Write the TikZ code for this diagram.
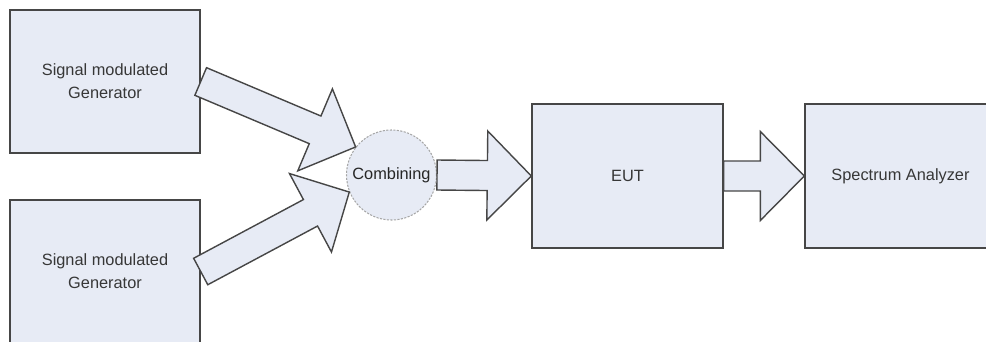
\documentclass[tikz,border=0pt]{standalone}
\usepackage{fontspec}
\setmainfont{Liberation Sans}
\usepackage{tikz}
\usetikzlibrary{calc}

\definecolor{boxfill}{RGB}{231,235,245}
\definecolor{boxline}{RGB}{70,70,70}
\definecolor{textgray}{RGB}{55,55,55}

% block arrow from #1 to #2
\newcommand{\fatarrow}[2]{%
    \coordinate (h) at ($(#2)!8.8mm!(#1)$);
    \draw[fatarrow] ($(#1)!3mm!90:(#2)$) -- ($(h)!3mm!90:(#2)$)
        -- ($(h)!8.9mm!90:(#2)$) -- (#2) -- ($(h)!8.9mm!-90:(#2)$)
        -- ($(h)!3mm!-90:(#2)$) -- ($(#1)!3mm!-90:(#2)$) -- cycle;
}

\begin{document}
\begin{tikzpicture}[
    x = 0.2mm, y = -0.2mm, % one unit = one pixel of the drawing
    font = \fontsize{9.3pt}{13pt}\selectfont,
    text = textgray,
    box/.style = {draw = boxline, line width = 0.8pt, fill = boxfill,
        inner sep = 0pt, align = center},
    fatarrow/.style = {draw = boxline, line width = 0.8pt, fill = boxfill,
        line join = miter}
    ]

    \tikzset{combiner/.style={
    circle,
    draw = gray!70,
    dash pattern = on 1.2pt off 0.8pt,
    line width = 0.6pt,
    fill = boxfill,
    text = black!85,
    inner sep = 0pt,
    minimum size = 18mm
    }}

    \clip (0,0) rectangle (986,341);

    \node[box, minimum width = 38mm, minimum height = 28.6mm] (gen1) at (105,81.5)
        {Signal modulated\\Generator};
    \node[box, minimum width = 38mm, minimum height = 28.6mm] (gen2) at (105,271.5)
        {Signal modulated\\Generator};
    \node[combiner] (comb) at (391.5,175) {Combining};
    \node[box, minimum width = 38.2mm, minimum height = 28.8mm] (eut) at (627.5,176) {EUT};
    \node[box, minimum width = 38.2mm, minimum height = 28.8mm] (sa) at (900.5,176)
        {Spectrum Analyzer};

    \fatarrow{gen1.east}{comb.142}
    \fatarrow{gen2.east}{comb.202}
    \fatarrow{comb.east}{eut.west}
    \fatarrow{eut.east}{sa.west}
\end{tikzpicture}
\end{document}
